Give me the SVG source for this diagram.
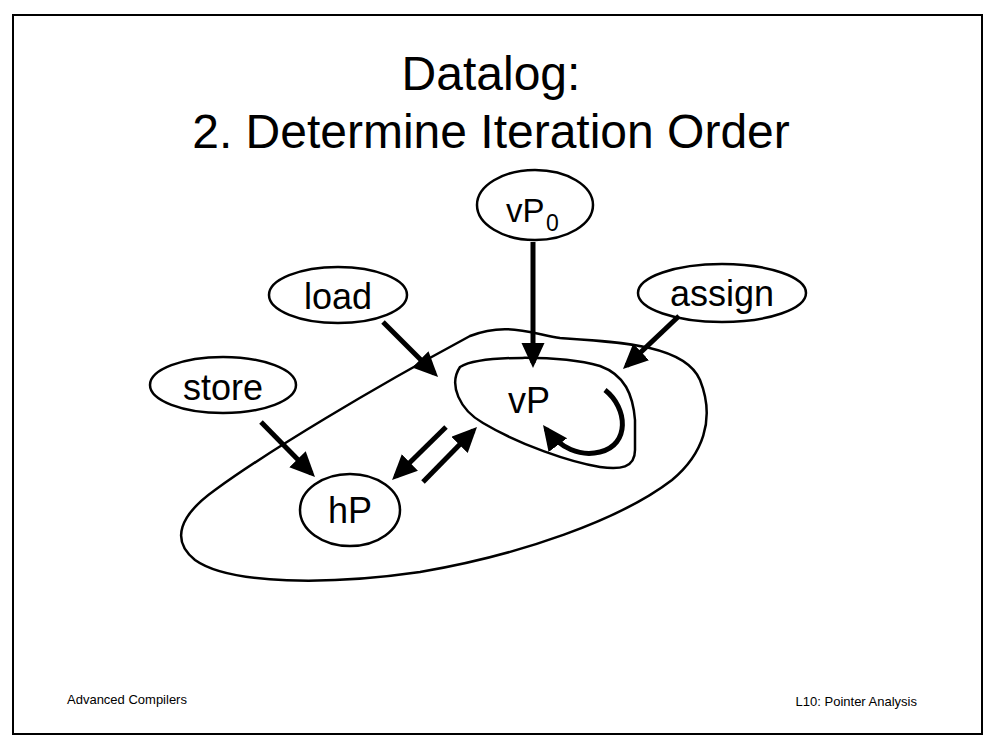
<svg xmlns="http://www.w3.org/2000/svg" width="992" height="748" viewBox="0 0 992 748">
<style>
text{font-family:"Liberation Sans",Arial,sans-serif;fill:#000}
.n{fill:#fff;stroke:#000;stroke-width:2.5}
.lbl{font-size:36px;text-anchor:middle}
.blob{fill:none;stroke:#000;stroke-width:2.5}
.e{fill:none;stroke:#000;stroke-width:5}
</style>
<defs>
<marker id="ah" markerUnits="userSpaceOnUse" markerWidth="26" markerHeight="24" refX="20" refY="11.5" orient="auto">
<path d="M0,0 L25,11.5 L0,23 Z" fill="#000"/>
</marker>
</defs>
<rect x="0" y="0" width="992" height="748" fill="#fff"/>
<rect x="13" y="15" width="969" height="719" fill="none" stroke="#000" stroke-width="2"/>
<g id="title">
<text x="491" y="90" font-size="48" text-anchor="middle">Datalog:</text>
<text x="491" y="148" font-size="48" text-anchor="middle">2. Determine Iteration Order</text>
</g>
<g id="outer">
<path class="blob" d="M470,336 C505,322 530,333 560,338 C620,342 685,345 700,380 C716,420 702,455 672,480 C620,520 520,555 420,572 C330,585 230,585 195,560 C170,540 180,515 215,490 C270,450 370,390 470,336 Z"/>
</g>
<g id="vP">
<path class="blob" d="M460,367 C480,355 560,355 600,366 C625,375 633,395 635,420 L635,450 C635,468 620,470 600,467 C570,462 520,445 483,423 C460,410 448,385 460,367 Z"/>
<text class="lbl" x="529" y="413">vP</text>
</g>
<g id="vP0">
<ellipse class="n" cx="535" cy="205" rx="58" ry="35"/>
<text x="506" y="222" font-size="33">vP</text>
<text x="546" y="231" font-size="23">0</text>
</g>
<g id="load">
<ellipse class="n" cx="338" cy="295" rx="69" ry="28"/>
<text class="lbl" x="338" y="309">load</text>
</g>
<g id="assign">
<ellipse class="n" cx="722" cy="293" rx="84" ry="29"/>
<text class="lbl" x="722" y="306">assign</text>
</g>
<g id="store">
<ellipse class="n" cx="223" cy="385" rx="73" ry="28"/>
<text class="lbl" x="223" y="400">store</text>
</g>
<g id="hP">
<ellipse class="n" cx="350" cy="510" rx="50" ry="36"/>
<text class="lbl" x="350" y="523">hP</text>
</g>
<g id="connectors">
<path class="e" marker-end="url(#ah)" d="M533,242 L533,363"/>
<path class="e" marker-end="url(#ah)" d="M383,322 L434.5,373.5"/>
<path class="e" marker-end="url(#ah)" d="M679,316 L626.6,365.6"/>
<path class="e" marker-end="url(#ah)" d="M261,422 L311.5,473.5"/>
<path class="e" marker-end="url(#ah)" d="M446,427 L395.6,476.5"/>
<path class="e" marker-end="url(#ah)" d="M423,482 L473.5,430.6"/>
<path class="e" marker-end="url(#ah)" d="M605,390 C628,408 630,445 600,452 C580,457 560,448 546,429"/>
</g>
<g id="footer">
<text x="67" y="704" font-size="13">Advanced Compilers</text>
<text x="917" y="706" font-size="13" text-anchor="end">L10: Pointer Analysis</text>
</g>
</svg>
